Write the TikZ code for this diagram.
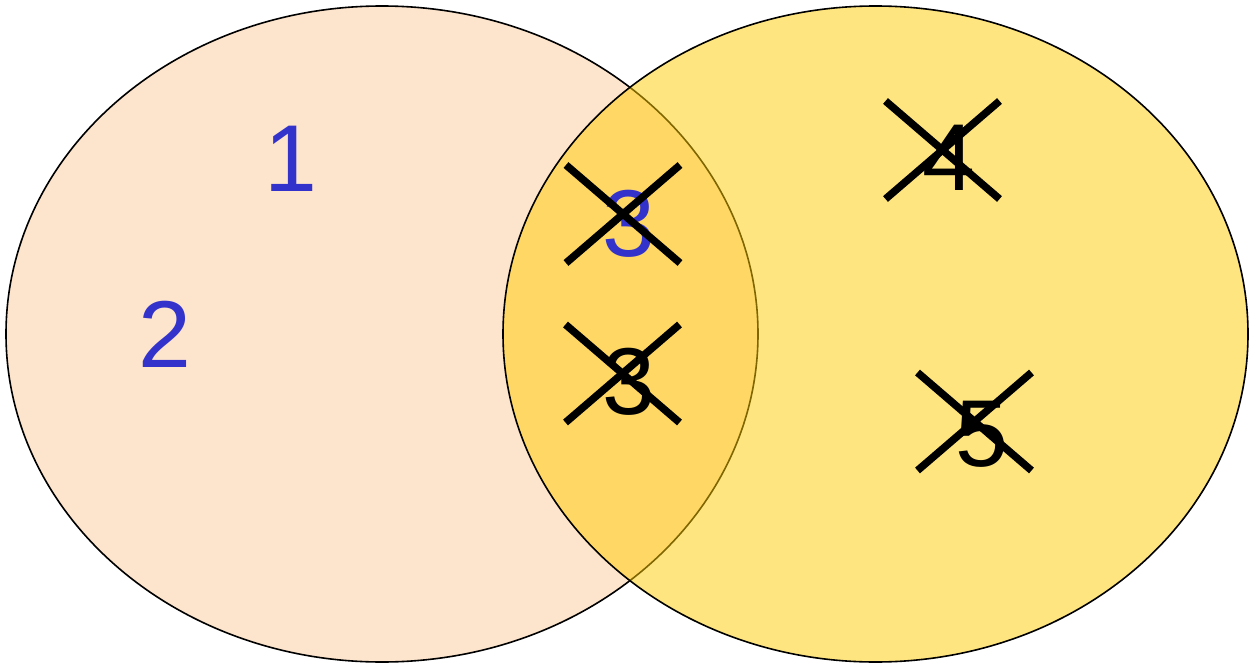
\documentclass[tikz,border=0pt]{standalone}
\usepackage{fontspec}
\setmainfont{Liberation Sans}
\usetikzlibrary{positioning}
\definecolor{peach}{HTML}{FDE4CC}
\definecolor{gold}{HTML}{FFCC00}
\definecolor{numblue}{HTML}{3333CC}

\begin{document}
\begin{tikzpicture}[x=1pt, y=-1pt,
  num/.style={anchor=base, inner sep=0pt, font=\fontsize{95}{95}\selectfont},
  setline/.style={black, line width=1.6pt},
  crossline/.style={black, line width=7.5pt}]

 \useasboundingbox (0,0) rectangle (1249,663);

 %sets
 \draw[setline, fill=peach] (382,334) ellipse [x radius=376, y radius=328];
 \draw[setline, fill=gold, fill opacity=0.5] (875.5,334) ellipse [x radius=372.5, y radius=328];

 %numbers
 \node[num, numblue] (n1) at (291,191) {1};
 \node[num, numblue] (n2) at (165,367) {2};
 \node[num, numblue] (n3a) at (629,256) {3};
 \node[num] (n3b) at (629,414) {3};
 \node[num] (n4) at (949,190) {4};
 \node[num] (n5) at (982,466) {5};

 %crosses
 \def\hx{57}
 \def\hy{49}
 \foreach \cx/\cy in {623/214, 622.5/373.5, 942.5/150, 974.5/421.5} {
     \draw[crossline] (\cx-\hx, \cy-\hy) -- (\cx+\hx, \cy+\hy);
     \draw[crossline] (\cx-\hx, \cy+\hy) -- (\cx+\hx, \cy-\hy);
 }

\end{tikzpicture}
\end{document}
